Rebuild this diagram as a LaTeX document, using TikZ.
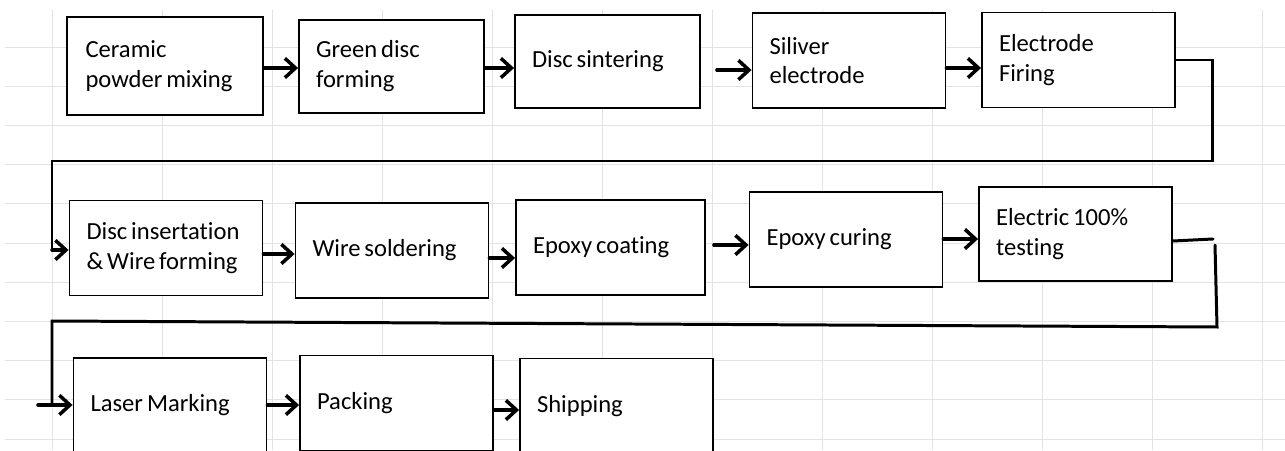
\documentclass[tikz,border=0pt]{standalone}
\usepackage{fontspec}
\setmainfont{Carlito}[Ligatures=NoCommon]
\usepackage{tikz}
\usetikzlibrary{arrows.meta}
\newcommand{\boxfont}{\fontsize{14}{17}\selectfont}

\begin{document}
\begin{tikzpicture}[x=0.02cm, y=-0.02cm, line cap=round,
    gridline/.style={draw=black!11, line width=0.5pt},
    stepbox/.style={draw, line width=1.1pt, fill=white, minimum width=3.86cm,
      minimum height=1.9cm, text width=3.18cm, inner xsep=0.34cm, align=left,
      font=\boxfont, execute at begin node={\spaceskip=0.16em plus 0.05em\relax\hyphenpenalty=10000\relax}},
    narrowbox/.style={stepbox, minimum width=3.7cm, text width=3.02cm},
    flow/.style={line width=2pt, -{Straight Barb[length=6pt,width=11pt]}},
    loopline/.style={line width=1.7pt, line join=miter}]
  % page and spreadsheet grid
  \useasboundingbox (0,0) rectangle (1285,450);
  \clip (0,0) rectangle (1285,450);
  \fill[white] (0,0) rectangle (1285,450);
  \foreach \gx in {52,162,...,1262}
    \draw[gridline] (\gx,10) -- (\gx,450);
  \foreach \gy in {47,86.2,...,440}
    \draw[gridline] (5,\gy) -- (1285,\gy);
  % first row
  \node[stepbox, minimum width=3.92cm, minimum height=1.96cm] (a1) at (165,66) {Ceramic\\powder mixing};
  \node[narrowbox, minimum height=1.86cm] (a2) at (391.5,66.5) {Green disc\\forming};
  \node[narrowbox, minimum height=1.86cm] (a3) at (607.5,61.5) {Disc sintering};
  \node[stepbox] (a4) at (849,60.5) {Siliver\\electrode};
  \node[stepbox] (a5) at (1078.5,60) {Electrode\\Firing};
  % second row
  \node[stepbox] (b1) at (166,248) {Disc insertation\\\& Wire forming};
  \node[stepbox] (b2) at (392,250.5) {Wire soldering};
  \node[stepbox, minimum width=3.78cm, text width=3.1cm] (b3) at (610.5,247.5) {Epoxy coating};
  \node[stepbox] (b4) at (846,239.5) {Epoxy curing};
  \node[stepbox, minimum height=1.88cm] (b5) at (1075.5,234) {Electric 100\%\\testing};
  % third row (cut off at the bottom)
  \node[stepbox] (c1) at (170,405.5) {Laser Marking};
  \node[stepbox] (c2) at (396.5,403) {Packing};
  \node[stepbox] (c3) at (616.5,406) {Shipping};
  % arrows along the rows
  \draw[flow] (a1.east |- 0,68) -- (a2.west |- 0,68);
  \draw[flow] (a2.east |- 0,68) -- (a3.west |- 0,68);
  \draw[flow, shorten <=0.32cm] (a3.east |- 0,70) -- (a4.west |- 0,70);
  \draw[flow] (a4.east |- 0,68) -- (a5.west |- 0,68);
  \draw[flow] (b1.east |- 0,254) -- (b2.west |- 0,254);
  \draw[flow] (b2.east |- 0,258) -- (b3.west |- 0,258);
  \draw[flow, shorten <=0.16cm] (b3.east |- 0,245) -- (b4.west |- 0,245);
  \draw[flow] (b4.east |- 0,239) -- (b5.west |- 0,239);
  \draw[flow] (c1.east |- 0,405) -- (c2.west |- 0,405);
  \draw[flow] (c2.east |- 0,410) -- (c3.west |- 0,410);
  % return lines between the rows
  \draw[loopline] (a5.east |- 0,60) -- (1212,60) -- (1212,161) -- (52,161) -- (52,250);
  \draw[flow] (52,250) -- (b1.west |- 0,250);
  \draw[loopline] (b5.east |- 0,241) -- (1213,239);
  \draw[loopline] (1215,245) -- (1217,327) -- (52,321) -- (52,405);
  \draw[flow] (38,405) -- (c1.west |- 0,405);
\end{tikzpicture}
\end{document}
